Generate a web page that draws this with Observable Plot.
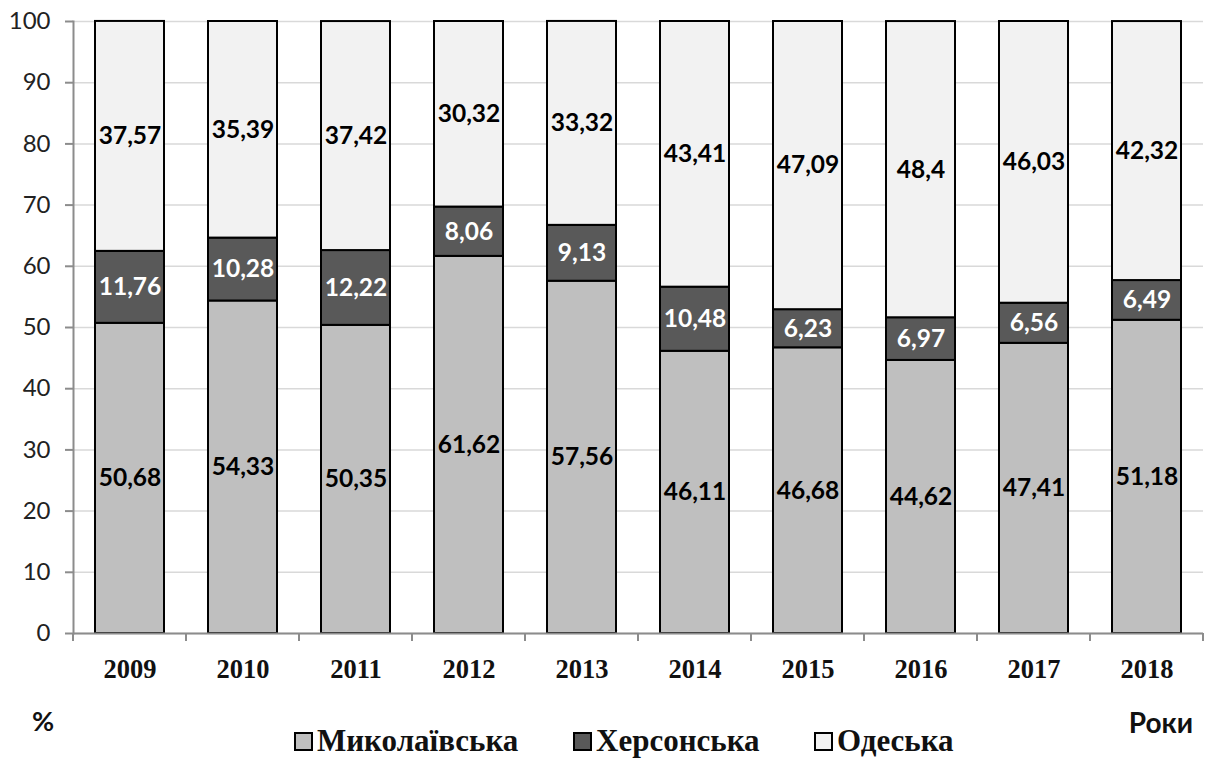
<!DOCTYPE html>
<html><head><meta charset="utf-8">
<script src="https://cdn.jsdelivr.net/npm/d3@7"></script>
<script src="https://cdn.jsdelivr.net/npm/@observablehq/plot@0.6"></script>
<style>body{margin:0;background:#fff}</style>
</head><body><div id="chart"></div>
<script>
const years = ["2009","2010","2011","2012","2013","2014","2015","2016","2017","2018"];
const mykolaivska = [50.68,54.33,50.35,61.62,57.56,46.11,46.68,44.62,47.41,51.18];
const khersonska = [11.76,10.28,12.22,8.06,9.13,10.48,6.23,6.97,6.56,6.49];
const odeska = [37.57,35.39,37.42,30.32,33.32,43.41,47.09,48.4,46.03,42.32];
const seriesNames = ["Миколаївська","Херсонська","Одеська"];
const seriesColors = ["#bfbfbf","#595959","#f2f2f2"];
const labelColors = ["#000000","#ffffff","#000000"];
const yTicks = [0,10,20,30,40,50,60,70,80,90,100];
const yLabel = "%";
const xLabel = "Роки";

const seriesValues = [mykolaivska, khersonska, odeska];
const rows = [];
years.forEach((yr, i) => {
  let base = 0;
  seriesValues.forEach((vals, s) => {
    const v = vals[i];
    rows.push({year: yr, series: seriesNames[s], value: v, y1: base, y2: base + v, mid: base + v / 2,
      label: String(v).replace(".", ","), lc: labelColors[s]});
    base += v;
  });
});

const W = 1210, H = 760;
const chart = Plot.plot({
  width: W, height: H,
  marginLeft: 73, marginRight: 7, marginTop: 21, marginBottom: 127,
  style: {background: "#fff", overflow: "visible"},
  x: {domain: years, paddingInner: 0.39, paddingOuter: 0.195, label: null},
  y: {domain: [0, 100], label: null},
  color: {domain: seriesNames, range: seriesColors},
  marks: [
    Plot.gridY(yTicks, {stroke: "#d9d9d9", strokeOpacity: 1, strokeWidth: 1.5}),
    Plot.barY(rows, {x: "year", y1: "y1", y2: "y2", fill: "series", stroke: "#000", strokeWidth: 2}),
    Plot.text(rows, {x: "year", y: "mid", text: "label", fill: "lc",
      fontFamily: "Lato", fontWeight: "bold", fontSize: 24.5}),
    Plot.axisY({ticks: yTicks, tickSize: 8, tickPadding: 15, stroke: "#8c8c8c", strokeWidth: 2,
      fill: "#222", fontFamily: "Lato", fontSize: 24, label: null, tickFormat: d => String(d)}),
    Plot.axisX({tickSize: 0, tickPadding: 26, fill: "#111", fontFamily: "Liberation Serif",
      fontWeight: "bold", fontSize: 26.5, label: null}),
    Plot.frame({anchor: "left", stroke: "#8c8c8c", strokeWidth: 2}),
    Plot.ruleY([0], {stroke: "#8c8c8c", strokeWidth: 2})
  ]
});
document.getElementById("chart").appendChild(chart);

const svg = d3.select(chart);
const xs = chart.scale("x");
const ys = chart.scale("y");
const y0 = ys.apply(0);
const step = xs.step;
const boundaryXs = years.map(yr => xs.apply(yr) - (step - xs.bandwidth) / 2);
boundaryXs.push(xs.apply(years[years.length - 1]) + xs.bandwidth + (step - xs.bandwidth) / 2);
svg.append("g").selectAll("line").data(boundaryXs).join("line")
  .attr("x1", d => d).attr("x2", d => d).attr("y1", y0).attr("y2", y0 + 8)
  .attr("stroke", "#8c8c8c").attr("stroke-width", 2);

// axis titles
svg.append("text").attr("x", 32).attr("y", 731).attr("text-anchor", "start").text(yLabel)
  .style("font-family", "Lato, sans-serif").style("font-weight", "bold").style("font-size", "27px").attr("fill", "#111");
svg.append("text").attr("x", 1193).attr("y", 733).attr("text-anchor", "end").text(xLabel)
  .style("font-family", "Lato, sans-serif").style("font-weight", "bold").style("font-size", "28px").attr("fill", "#111");

// legend
const legendX = [295, 574, 815];
const lg = svg.append("g").attr("text-anchor", "start");
seriesNames.forEach((name, i) => {
  lg.append("rect").attr("x", legendX[i]).attr("y", 733).attr("width", 17).attr("height", 17)
    .attr("fill", seriesColors[i]).attr("stroke", "#000").attr("stroke-width", 2);
  lg.append("text").attr("x", legendX[i] + 22).attr("y", 751).attr("text-anchor", "start").text(name)
    .style("font-family", "'Liberation Serif', 'DejaVu Serif', serif").style("font-weight", "bold")
    .style("font-size", "31px").attr("fill", "#111");
});
</script></body></html>
